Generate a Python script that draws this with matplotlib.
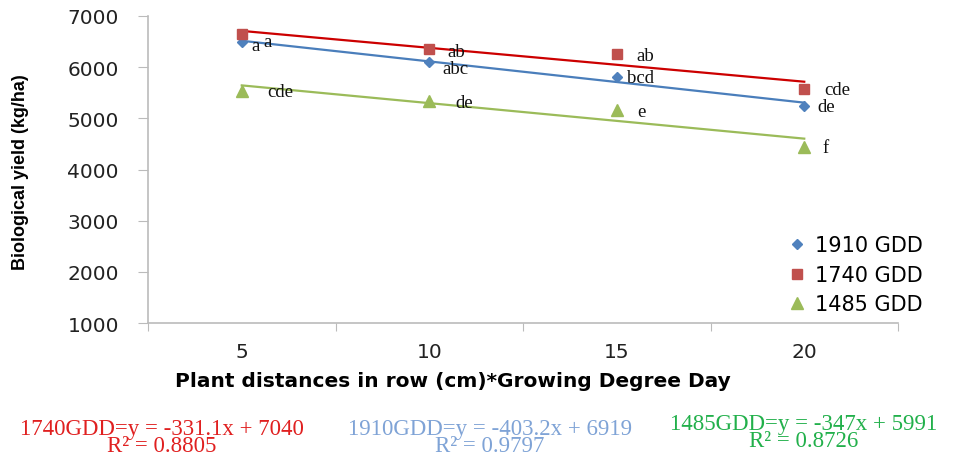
import matplotlib
matplotlib.use("Agg")
import matplotlib.pyplot as plt
import numpy as np

categories = ["5", "10", "15", "20"]
series_names = ["1910 GDD", "1740 GDD", "1485 GDD"]
y1910 = [6490, 6100, 5810, 5245]
y1740 = [6645, 6355, 6255, 5575]
y1485 = [5535, 5330, 5160, 4440]
letters1910 = ["a", "abc", "bcd", "de"]
letters1740 = ["a", "ab", "ab", "cde"]
letters1485 = ["cde", "de", "e", "f"]
slopes = [-403.2, -331.1, -347.0]
intercepts = [6919, 7040, 5991]
eq_texts = ["1740GDD=y = -331.1x + 7040\nR² = 0.8805",
            "1910GDD=y = -403.2x + 6919\nR² = 0.9797",
            "1485GDD=y = -347x + 5991\nR² = 0.8726"]
yticks = [1000, 2000, 3000, 4000, 5000, 6000, 7000]

marker_colors = ["#4F81BD", "#C0504D", "#9BBB59"]
line_colors = ["#4A7EBB", "#CC0000", "#9BBB59"]
markers = ["D", "s", "^"]
msizes = [5.5, 7.5, 8.5]
label_offsets = [[(10, -3), (13, -6), (10, -1), (13, -1)],
                 [(22, -7), (18, -2), (20, -1), (20, -1)],
                 [(26, -1), (26, -1), (20, -1), (18, -1)]]

fig = plt.figure(figsize=(9.68, 4.6), dpi=100)
ax = fig.add_axes([148/968, 1-324/460, 750/968, 307/460])

x = np.arange(1, len(categories)+1)
all_y = [y1910, y1740, y1485]
all_letters = [letters1910, letters1740, letters1485]
handles = []
for i in range(3):
    xl = np.array([x[0], x[-1]])
    ax.plot(xl, slopes[i]*xl + intercepts[i], color=line_colors[i], lw=1.6, zorder=2)
for i in range(3):
    h, = ax.plot(x, all_y[i], linestyle="none", marker=markers[i], color=marker_colors[i],
                 markersize=msizes[i], zorder=3, label=series_names[i])
    handles.append(h)
    for j in range(len(x)):
        ax.annotate(all_letters[i][j], (x[j], all_y[i][j]), textcoords="offset pixels",
                    xytext=label_offsets[i][j], ha="left", va="center",
                    family="Liberation Serif", fontsize=13.5, color="#111111")

ax.set_xlim(0.5, len(categories)+0.5)
ax.set_ylim(1000, 7000)
ax.set_yticks(yticks)
ax.set_yticklabels([str(v) for v in yticks])
ax.set_xticks(np.arange(0.5, len(categories)+1, 1.0))
ax.set_xticklabels([])
ax.set_xticks(x, minor=True)
ax.set_xticklabels(categories, minor=True)
for s in ["top", "right"]:
    ax.spines[s].set_visible(False)
for s in ["left", "bottom"]:
    ax.spines[s].set_color("#BBBBBB")
    ax.spines[s].set_linewidth(1.2)
ax.tick_params(axis="y", direction="out", length=7, color="#BBBBBB", pad=14,
               labelsize=14.5, labelcolor="#222222")
ax.tick_params(axis="x", which="major", direction="out", length=6, color="#BBBBBB")
ax.tick_params(axis="x", which="minor", length=0, pad=14, labelsize=14.5, labelcolor="#222222")
ax.set_ylabel("Biological yield (kg/ha)", family="Liberation Sans", fontweight="bold",
              fontsize=13)
ax.yaxis.set_label_coords(-0.158, 0.495)
ax.set_xlabel("Plant distances in row (cm)*Growing Degree Day", family="DejaVu Sans",
              fontweight="bold", fontsize=14.5)
ax.xaxis.set_label_coords(0.407, -0.155)

fig.legend(handles=handles, loc="upper left", bbox_to_anchor=(774/968, 1-226/460),
           frameon=False, fontsize=15, handletextpad=0.25, labelspacing=0.45,
           handlelength=1.2, borderpad=0)

eq_colors = ["#E02020", "#7FA3D6", "#22B04B"]
eq_pos = [(162/968, 1-438/460), (490/968, 1-438/460), (804/968, 1-433/460)]
for t, c, p in zip(eq_texts, eq_colors, eq_pos):
    fig.text(p[0], p[1], t, ha="center", va="center", color=c,
             family="Liberation Serif", fontsize=16.5, linespacing=0.8)

fig.savefig("out.png", dpi=100)
